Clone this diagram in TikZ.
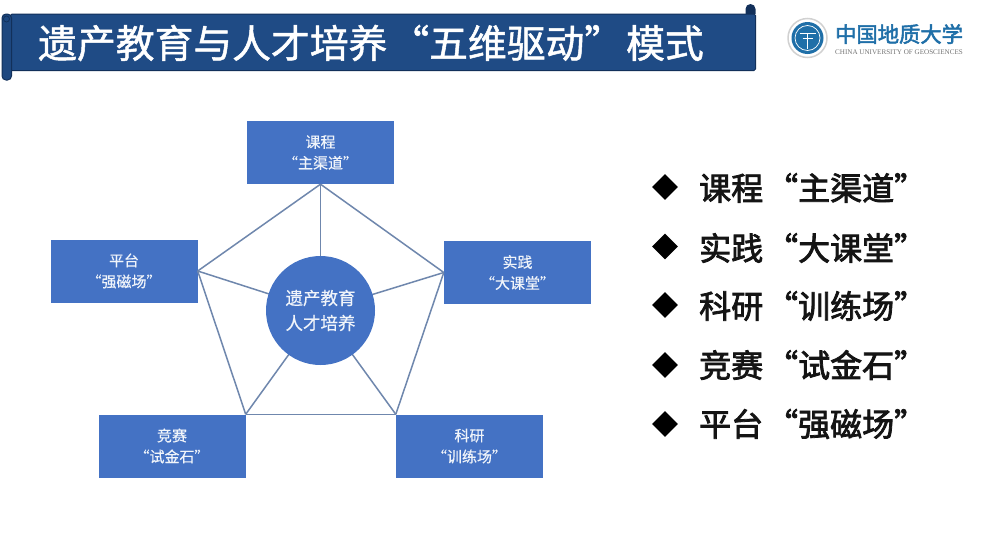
\documentclass[tikz,border=0pt]{standalone}
\usepackage{fontspec}
\setmainfont{Noto Sans CJK SC}
\newfontfamily\serifl{Liberation Serif}
\newfontfamily\cjklight[FakeBold=0.4]{Noto Sans CJK SC}
\newfontfamily\cjkmed[FakeBold=1.3]{Noto Sans CJK SC}
\newfontfamily\cjkstrong[FakeBold=2.4]{Noto Sans CJK SC}
\usetikzlibrary{shapes.geometric}
\definecolor{boxblue}{HTML}{4472C4}
\definecolor{banner}{HTML}{1F4B85}
\definecolor{bannerdark}{HTML}{12305A}
\definecolor{linkblue}{HTML}{6F87AD}
\definecolor{logoblue}{HTML}{1F6FA8}
\newcommand{\fsz}[1]{\fontsize{#1}{#1}\selectfont}
\newcommand{\itemrow}[2]{#1\kern3pt“#2”}
\tikzset{
  x=1pt,y=-1pt,
  boxnode/.style={draw=none,fill=boxblue,minimum width=147pt,minimum height=63pt,inner sep=0pt,text=white!92!boxblue,align=center,font=\fsz{15}\cjklight},
  hubnode/.style={circle,fill=boxblue,minimum size=109pt,inner sep=0pt,text=white!92!boxblue,align=center,font=\fsz{17.5}\cjklight},
  linkline/.style={draw=linkblue,line width=1.5pt},
  bullet/.style={diamond,fill=black,minimum width=26pt,minimum height=26pt,inner sep=0pt},
  itemtext/.style={anchor=west,inner sep=0pt,font=\fsz{32}\cjkstrong,text=black!92},
}
\begin{document}
\begin{tikzpicture}
\useasboundingbox (0,0) rectangle (986,541);
\fill[white] (0,0) rectangle (986,541);
% banner
\fill[bannerdark] (745.5,14) -- (745.5,9) arc[start angle=180,end angle=0,radius=5pt] -- (755.5,14) -- cycle;
\node[draw=bannerdark,fill=banner,line width=1pt,rounded corners=1.5pt,minimum width=745pt,minimum height=56.5pt,inner sep=0pt,anchor=north west] (banner) at (10,13.5) {};
\node[draw=bannerdark,fill=banner!85!bannerdark,line width=1pt,rounded corners=4pt,minimum width=9.5pt,minimum height=66pt,inner sep=0pt,anchor=north west] (roll) at (1.5,13.5) {};
\draw[bannerdark,line width=0.7pt] (6.5,19) circle[radius=3pt];
\node[anchor=west,inner sep=0pt,text=white,font=\fsz{38.8}\cjkmed] (title) at (38,43) {遗产教育与人才培养\kern3pt“五维驱动”\kern3pt模式};
% logo
\node[circle,draw=black!18,fill=white,line width=1.5pt,minimum size=39pt,inner sep=0pt] (logoring) at (807.5,38) {};
\node[circle,fill=logoblue,minimum size=32pt,inner sep=0pt] (logodisc) at (807.5,38) {};
\draw[white,line width=0.8pt] (799.5,33) -- (815.5,33) (802.5,38) -- (812.5,38) (807.5,33) -- (807.5,49);
\draw[white,line width=0.7pt] (807.5,38) circle[radius=12.5pt];
\node[anchor=west,inner sep=0pt,text=logoblue,font=\fsz{21.3}\cjkstrong] (logocn) at (835,34) {中国地质大学};
\node[anchor=west,inner sep=0pt,text=black!55,font=\serifl\fsz{7.1}] (logoen) at (835,52) {CHINA UNIVERSITY OF GEOSCIENCES};
% diagram
\node[boxnode] (top) at (320.5,152.5) {课程\\[6pt]“主渠道”};
\node[boxnode] (right) at (517.5,272.5) {实践\\[6pt]“大课堂”};
\node[boxnode] (left) at (124,271) {平台\\[6pt]“强磁场”};
\node[boxnode] (bl) at (172,446) {竞赛\\[6pt]“试金石”};
\node[boxnode] (br) at (469.5,446) {科研\\[6pt]“训练场”};
\coordinate (hubc) at (320.5,310.5);
\draw[linkline] (top.south) -- (right.west);
\draw[linkline] (right.west) -- (br.north west);
\draw[linkline] (br.north west) -- (bl.north east);
\draw[linkline] (bl.north east) -- (left.east);
\draw[linkline] (left.east) -- (top.south);
\draw[linkline] (hubc) -- (top.south);
\draw[linkline] (hubc) -- (right.west);
\draw[linkline] (hubc) -- (br.north west);
\draw[linkline] (hubc) -- (bl.north east);
\draw[linkline] (hubc) -- (left.east);
\node[hubnode] (hub) at (hubc) {遗产教育\\[7.5pt]人才培养};
% list
\node[bullet] (b1) at (665,187) {};
\node[itemtext] (t1) at (699,188) {\itemrow{课程}{主渠道}};
\node[bullet] (b2) at (665,246.5) {};
\node[itemtext] (t2) at (699,248) {\itemrow{实践}{大课堂}};
\node[bullet] (b3) at (665,305) {};
\node[itemtext] (t3) at (699,306) {\itemrow{科研}{训练场}};
\node[bullet] (b4) at (665,365) {};
\node[itemtext] (t4) at (699,365) {\itemrow{竞赛}{试金石}};
\node[bullet] (b5) at (665,424) {};
\node[itemtext] (t5) at (699,424) {\itemrow{平台}{强磁场}};
\end{tikzpicture}
\end{document}
